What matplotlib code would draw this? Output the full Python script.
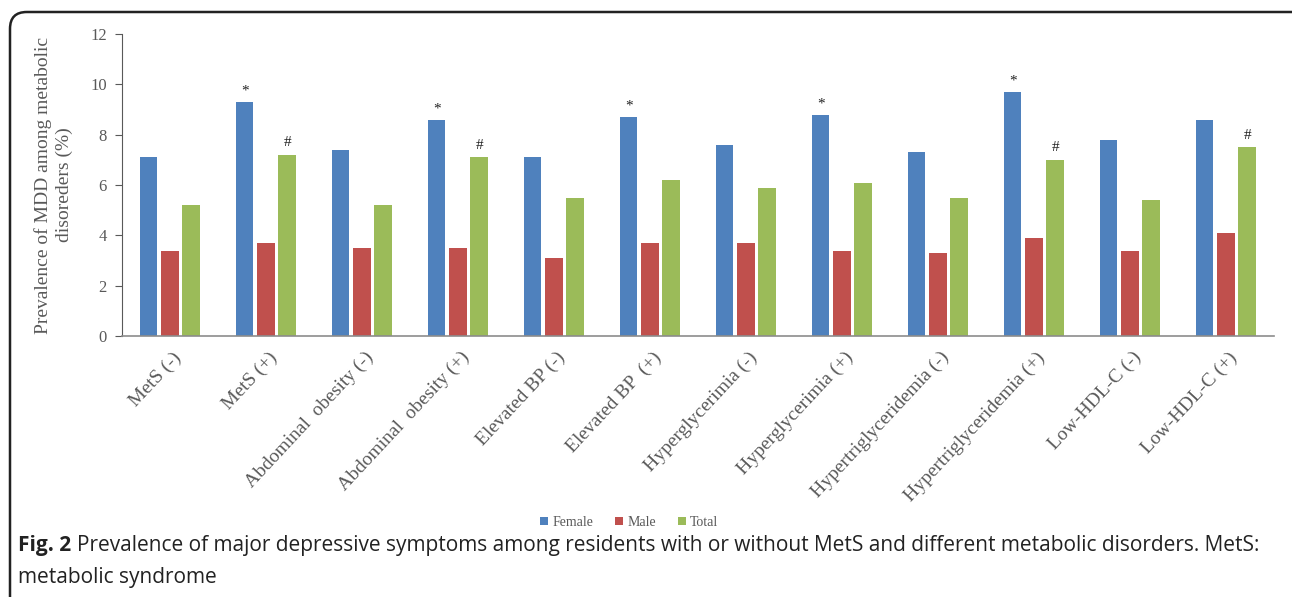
import numpy as np
import matplotlib; matplotlib.use("Agg")
import matplotlib.pyplot as plt
from matplotlib.patches import FancyBboxPatch

categories = ["MetS (-)", "MetS (+)", "Abdominal  obesity (-)", "Abdominal  obesity (+)",
              "Elevated BP (-)", "Elevated BP  (+)", "Hyperglycerimia (-)", "Hyperglycerimia (+)",
              "Hypertriglyceridemia (-)", "Hypertriglyceridemia (+)", "Low-HDL-C (-)", "Low-HDL-C (+)"]
female = [7.1, 9.3, 7.4, 8.6, 7.1, 8.7, 7.6, 8.8, 7.3, 9.7, 7.8, 8.6]
male = [3.4, 3.7, 3.5, 3.5, 3.1, 3.7, 3.7, 3.4, 3.3, 3.9, 3.4, 4.1]
total = [5.2, 7.2, 5.2, 7.1, 5.5, 6.2, 5.9, 6.1, 5.5, 7.0, 5.4, 7.5]
star_idx = [1, 3, 5, 7, 9]      # * above Female
hash_idx = [1, 3, 9, 11]        # # above Total
yticks = [0, 2, 4, 6, 8, 10, 12]

C_F, C_M, C_T = "#4F81BD", "#C0504D", "#9BBB59"
GRAY = "#595959"
SERIF = "Liberation Serif"

fig = plt.figure(figsize=(12.92, 5.97), dpi=100)
ax = fig.add_axes([0.0944, 0.437, 0.8916, 0.506])
x = np.arange(len(categories))
w, off = 0.18, 0.22
ax.bar(x - off, female, w, color=C_F, label="Female")
ax.bar(x, male, w, color=C_M, label="Male")
ax.bar(x + off, total, w, color=C_T, label="Total")
for i in star_idx:
    ax.annotate("*", (x[i] - off, female[i]), xytext=(0, 3), textcoords="offset points",
                ha="center", va="bottom", fontsize=11, family=SERIF, color="#222222")
for i in hash_idx:
    ax.annotate("#", (x[i] + off, total[i]), xytext=(0, 4), textcoords="offset points",
                ha="center", va="bottom", fontsize=11, family=SERIF, color="#222222")

ax.set_xlim(-0.5, len(categories) - 0.5)
ax.set_ylim(0, 12)
ax.set_yticks(yticks)
ax.set_yticklabels([str(v) for v in yticks], family=SERIF, fontsize=12, color=GRAY)
ax.set_xticks(x + 0.02)
ax.set_xticklabels(categories, rotation=47, ha="right", va="top", rotation_mode="anchor",
                   family=SERIF, fontsize=14, color=GRAY)
ax.tick_params(axis="x", length=0, pad=9)
ax.tick_params(axis="y", length=5, color=GRAY, pad=6)
for s in ["top", "right"]:
    ax.spines[s].set_visible(False)
ax.spines["left"].set_color(GRAY)
ax.spines["bottom"].set_color("#8C8C8C")
ax.spines["bottom"].set_linewidth(1.2)
ax.set_ylabel("Prevalence of MDD among metabolic\ndisoreders (%)", family=SERIF,
              fontsize=14, color=GRAY, labelpad=12, linespacing=1.3)

leg = fig.legend(loc="center", bbox_to_anchor=(0.487, 0.125), ncol=3, frameon=False,
                 prop={"family": SERIF, "size": 10}, handlelength=0.55, handleheight=0.55,
                 handletextpad=0.3, columnspacing=1.6)
for t in leg.get_texts():
    t.set_color(GRAY)

# rounded frame around figure
frame = FancyBboxPatch((10 / 1292, -0.1), 1.1, 1 - 12 / 597 + 0.1, transform=fig.transFigure,
                       boxstyle="round,pad=0,rounding_size=0.013", fill=False, ec="#222222",
                       lw=1.8, mutation_aspect=2.16)
fig.patches.append(frame)

fig.text(18 / 1292, 1 - 546 / 597, "Fig. 2", family="Open Sans", fontweight="bold",
         fontsize=15, va="center", color="#222222")
fig.text(77 / 1292, 1 - 546 / 597,
         "Prevalence of major depressive symptoms among residents with or without MetS and different metabolic disorders. MetS:",
         family="Open Sans", fontsize=15, va="center", color="#222222")
fig.text(18 / 1292, 1 - 578 / 597, "metabolic syndrome", family="Open Sans", fontsize=15,
         va="center", color="#222222")

fig.savefig("out.png", dpi=100)
